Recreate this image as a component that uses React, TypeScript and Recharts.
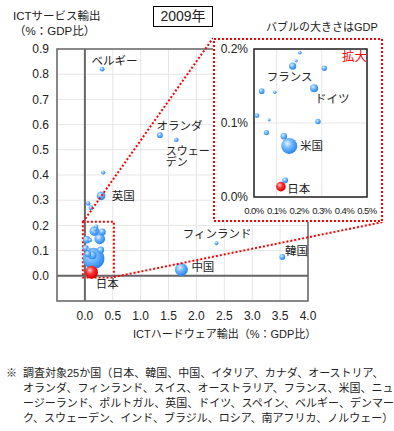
import React from 'react';
import {
  ScatterChart, Scatter, XAxis, YAxis, ZAxis, CartesianGrid, ReferenceLine, ReferenceArea,
} from 'recharts';

// 25 countries, 2009
const countries = [
  '米国', '中国', 'ドイツ', 'フランス', '英国', 'イタリア', 'ブラジル', 'スペイン', 'カナダ',
  'インド', 'ロシア', 'オーストラリア', '韓国', 'オランダ', 'スイス', 'ベルギー', 'スウェーデン',
  'ノルウェー', 'オーストリア', 'デンマーク', '南アフリカ', 'フィンランド', 'ポルトガル',
  'ニュージーランド', '日本',
];
// ICT hardware exports (% of GDP)
const hwExports = [
  0.156, 1.73, 0.266, 0.171, 0.29, 0.132, 0.138, 0.034, 0.311,
  0.283, 0.055, 0.013, 3.54, 1.345, 0.11, 0.31, 1.64,
  0.203, 0.06, 0.33, 0.092, 2.36, 0.187,
  0.067, 0.119,
];
// ICT service exports (% of GDP)
const svcExports = [
  0.069, 0.025, 0.147, 0.177, 0.317, 0.082, 0.0225, 0.143, 0.174,
  0.102, 0.087, 0.11, 0.075, 0.558, 0.27, 0.82, 0.54,
  0.195, 0.287, 0.41, 0.1415, 0.129, 0.184,
  0.104, 0.014,
];
// GDP (trillion USD) -> bubble size
const gdp = [
  14.4, 5.1, 3.4, 2.7, 2.2, 2.1, 1.6, 1.5, 1.34,
  1.3, 1.22, 0.99, 0.83, 0.8, 0.5, 0.47, 0.41,
  0.38, 0.38, 0.31, 0.29, 0.24, 0.23,
  0.12, 5.0,
];

const xTicks = [0, 0.5, 1, 1.5, 2, 2.5, 3, 3.5, 4];
const yTicks = [0, 0.1, 0.2, 0.3, 0.4, 0.5, 0.6, 0.7, 0.8, 0.9];
const insetXTicks = [0, 0.1, 0.2, 0.3, 0.4, 0.5];
const insetYTicks = [0, 0.1, 0.2];

const footnote = [
  '調査対象25か国（日本、韓国、中国、イタリア、カナダ、オーストリア、',
  'オランダ、フィンランド、スイス、オーストラリア、フランス、米国、ニュ',
  'ージーランド、ポルトガル、英国、ドイツ、スペイン、ベルギー、デンマー',
  'ク、スウェーデン、インド、ブラジル、ロシア、南アフリカ、ノルウェー）',
];

// label offsets from bubble centre (px)
const mainLabelPos: Record<string, [number, number]> = {
  'ベルギー': [-10.6, -8],
  'オランダ': [-3.3, -9.2],
  'スウェーデン': [-10.7, 10.8],
  '英国': [10.7, 0],
  '日本': [4.3, 11.7],
  '中国': [10, -2.3],
  'フィンランド': [-33.7, -9],
  '韓国': [2.7, -6],
};
const insetLabelPos: Record<string, [number, number]> = {
  'フランス': [-26, 10.7],
  'ドイツ': [1, 10.5],
  '米国': [10.7, 0],
  '日本': [6.3, 2.7],
};
const labelLines: Record<string, string[]> = {
  'スウェーデン': ['スウェー', 'デン'],
};

const points = countries.map((name, i) => ({
  name, x: hwExports[i], y: svcExports[i], z: gdp[i],
}));
const insetPoints = points.filter((p) => p.x <= 0.5 && p.y <= 0.2);

const FONT = "'Liberation Sans', Arial, 'Noto Sans CJK JP', sans-serif";
const RED = '#ff0000';

const Bubble = (props: any) => {
  const { cx, cy, payload } = props;
  const r = props.size != null ? Math.sqrt(props.size / Math.PI) : props.width / 2;
  const fill = payload.name === '日本' ? 'url(#gradRed)' : 'url(#gradBlue)';
  return <circle cx={cx} cy={cy} r={r} fill={fill} />;
};

const makeLabel = (pos: Record<string, [number, number]>) => (props: any) => {
  const { cx, cy, payload } = props;
  const off = pos[payload.name];
  if (!off) return <g />;
  const lines = labelLines[payload.name] || [payload.name];
  return (
    <text x={cx + off[0]} y={cy + off[1]} fontSize={lines.length > 1 ? 11 : 11.5} fill="#222" dominantBaseline="central">
      {lines.map((l, i) => (
        <tspan key={i} x={cx + off[0]} dy={i === 0 ? 0 : 11.5}>{l}</tspan>
      ))}
    </text>
  );
};

const tickStyle = { fill: '#222', fontSize: 12 };

const MainChart = () => (
  <ScatterChart width={394} height={431} margin={{ top: 49, right: 86, bottom: 100, left: 0 }}>
    <CartesianGrid stroke="#e6e6e6" />
    <XAxis
      type="number" dataKey="x" domain={[-0.5, 4]} ticks={xTicks} height={30}
      axisLine={false} tickLine={false} tickMargin={4} tick={tickStyle}
      tickFormatter={(v: number) => v.toFixed(1)}
    />
    <YAxis
      type="number" dataKey="y" domain={[-0.1, 0.9]} ticks={yTicks} width={57}
      axisLine={false} tickLine={false} tick={tickStyle}
      tickFormatter={(v: number) => v.toFixed(1)}
    />
    <ZAxis type="number" dataKey="z" domain={[0, 15]} range={[6, 380]} />
    <ReferenceArea x1={-0.5} x2={4} y1={-0.1} y2={0.9} fill="none" stroke="#666" strokeWidth={1.5} />
    <ReferenceLine x={0} stroke="#666" strokeWidth={2} />
    <ReferenceLine y={0} stroke="#666" strokeWidth={2} />
    <ReferenceArea
      x1={-0.036} x2={0.52} y1={-0.007} y2={0.214}
      fill="none" stroke={RED} strokeWidth={2} strokeDasharray="2 2"
    />
    <Scatter data={points} shape={Bubble} isAnimationActive={false} />
    <Scatter
      data={points.filter((p) => mainLabelPos[p.name])}
      shape={makeLabel(mainLabelPos)} isAnimationActive={false}
    />
  </ScatterChart>
);

const InsetChart = () => (
  <ScatterChart width={170} height={184} margin={{ top: 11, right: 16, bottom: 8, left: 0 }}>
    <CartesianGrid stroke="#e6e6e6" />
    <XAxis
      type="number" dataKey="x" domain={[0, 0.5]} ticks={insetXTicks} height={17}
      axisLine={false} tickLine={false} tickMargin={4}
      tick={{ fill: '#222', fontSize: 9.5, letterSpacing: -0.6 }}
      tickFormatter={(v: number) => v.toFixed(1) + '%'}
    />
    <YAxis
      type="number" dataKey="y" domain={[0, 0.2]} ticks={insetYTicks} width={41}
      axisLine={false} tickLine={false} tickSize={4} tickMargin={2} tick={tickStyle}
      tickFormatter={(v: number) => v.toFixed(1) + '%'}
    />
    <ZAxis type="number" dataKey="z" domain={[0, 15]} range={[5, 209]} />
    <ReferenceArea x1={0} x2={0.5} y1={0} y2={0.2} fill="none" stroke="#222" strokeWidth={1.5} />
    <Scatter data={insetPoints} shape={Bubble} isAnimationActive={false} />
    <Scatter
      data={insetPoints.filter((p) => insetLabelPos[p.name])}
      shape={makeLabel(insetLabelPos)} isAnimationActive={false}
    />
  </ScatterChart>
);

const abs = (left: number, top: number, extra: React.CSSProperties = {}): React.CSSProperties => ({
  position: 'absolute', left, top, whiteSpace: 'nowrap', lineHeight: 1, ...extra,
});

export default function App() {
  return (
    <div style={{ position: 'absolute', left: 0, top: 0, width: 394, height: 431, background: '#fff', fontFamily: FONT, color: '#222', overflow: 'hidden' }}>
      <svg width={0} height={0} style={{ position: 'absolute' }}>
        <defs>
          <radialGradient id="gradBlue" cx="38%" cy="35%" r="65%">
            <stop offset="0%" stopColor="#e6f3ff" />
            <stop offset="45%" stopColor="#6fb7ff" />
            <stop offset="100%" stopColor="#2a86ee" />
          </radialGradient>
          <radialGradient id="gradRed" cx="38%" cy="35%" r="65%">
            <stop offset="0%" stopColor="#ffd0d0" />
            <stop offset="45%" stopColor="#ff3030" />
            <stop offset="100%" stopColor="#d00000" />
          </radialGradient>
        </defs>
      </svg>

      <div style={{ position: 'absolute', left: 0, top: 0 }}>
        <MainChart />
      </div>

      <svg width={394} height={431} style={{ position: 'absolute', left: 0, top: 0, pointerEvents: 'none' }}>
        <line x1={83} y1={222} x2={213} y2={38} stroke={RED} strokeWidth={2} strokeDasharray="2 2" />
        <line x1={114} y1={277} x2={383} y2={222} stroke={RED} strokeWidth={2} strokeDasharray="2 2" />
      </svg>

      <div style={{ position: 'absolute', left: 213, top: 38, width: 170, height: 184, background: '#fff' }}>
        <InsetChart />
        <svg width={170} height={184} style={{ position: 'absolute', left: 0, top: 0, pointerEvents: 'none' }}>
          <rect x={1} y={1} width={168} height={182} fill="none" stroke={RED} strokeWidth={2} strokeDasharray="2 2" />
        </svg>
        <div style={abs(129, 13, { fontSize: 12.5, color: RED })}>拡大</div>
      </div>

      <div style={abs(153, 6, { width: 58, height: 19, border: '1px solid #000', fontSize: 14, textAlign: 'center', lineHeight: '19px' })}>2009年</div>

      <div style={abs(13, 11, { fontSize: 11.5 })}>ICTサービス輸出</div>
      <div style={abs(14, 26, { fontSize: 11.5 })}>（%：GDP比）</div>
      <div style={abs(266, 22, { fontSize: 11 })}>バブルの大きさはGDP</div>
      <div style={abs(133, 329, { fontSize: 11 })}>ICTハードウェア輸出（%：GDP比）</div>

      <div style={abs(6, 368, { fontSize: 11 })}>※</div>
      {footnote.map((line, i) => (
        <div key={i} style={abs(23, 368 + i * 15, { fontSize: 11 })}>{line}</div>
      ))}
    </div>
  );
}
